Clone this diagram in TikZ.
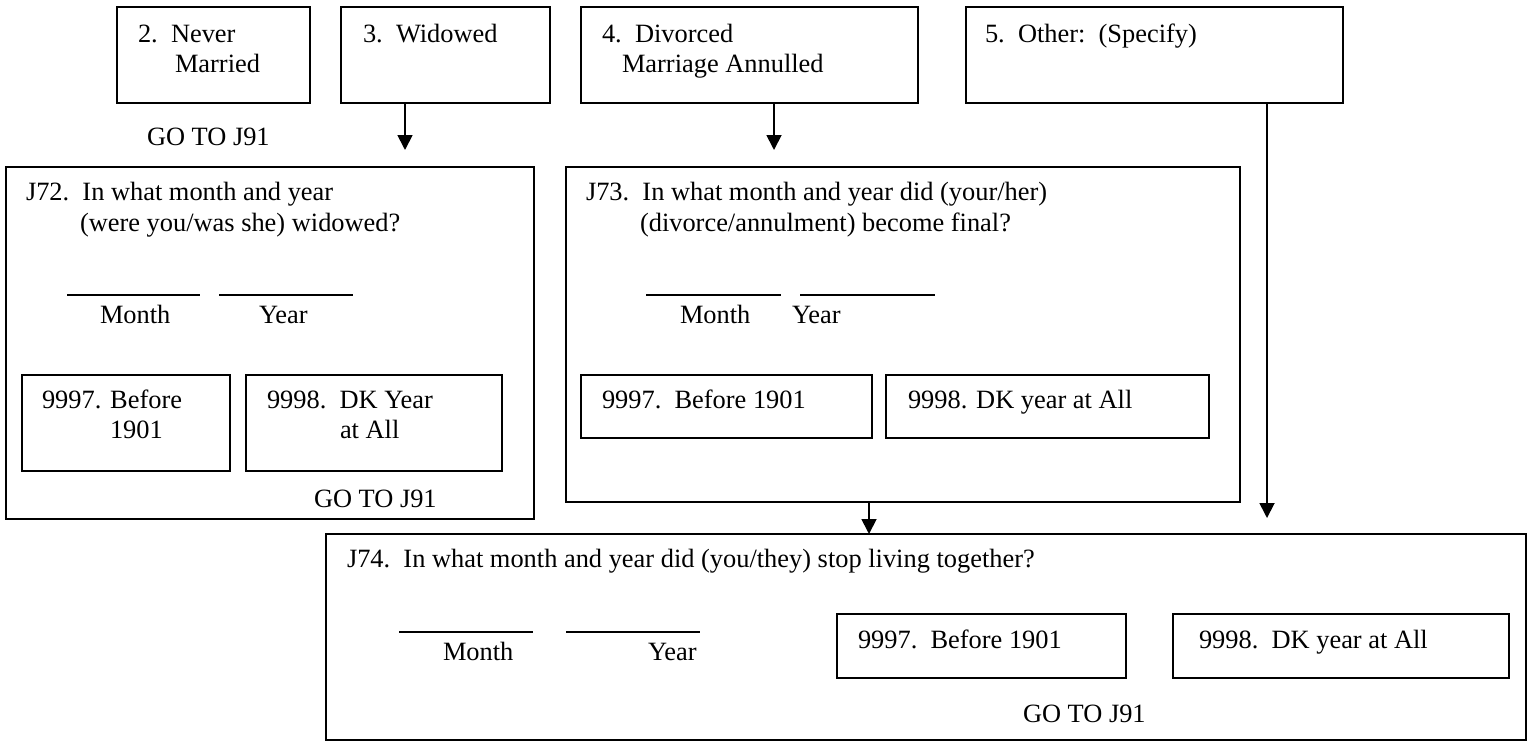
\documentclass[tikz,border=0pt]{standalone}
\usepackage{fontspec}
\setmainfont{Liberation Serif}
\usetikzlibrary{arrows.meta}
\begin{document}
\begin{tikzpicture}[x=1pt,y=-1pt,
  every node/.style={font=\fontsize{26.4pt}{30pt}\selectfont},
  box/.style={draw, line width=2pt, rectangle, inner sep=0pt, outer sep=0pt, anchor=north west},
  txt/.style={anchor=base west, inner sep=0pt, outer sep=0pt},
  blank/.style={line width=1.5pt},
  arr/.style={line width=1.8pt, -{Triangle[length=15pt,width=15pt]}}]
\useasboundingbox (0,0) rectangle (1533,742);
% top answer boxes
\node[box, minimum width=193pt, minimum height=96pt] (b2) at (117,7) {};
\node[box, minimum width=209pt, minimum height=96pt] (b3) at (341,7) {};
\node[box, minimum width=337pt, minimum height=96pt] (b4) at (581,7) {};
\node[box, minimum width=377pt, minimum height=96pt] (b5) at (966,7) {};
\node[txt] (t2a) at (138,42) {2.\ \ Never};
\node[txt] (t2b) at (175,72) {Married};
\node[txt] (g2) at (147,145) {GO TO J91};
\node[txt] (t3) at (363,42) {3.\ \ Widowed};
\node[txt] (t4a) at (602,42) {4.\ \ Divorced};
\node[txt] (t4b) at (622,72) {Marriage Annulled};
\node[txt] (t5) at (985,42) {5.\ \ Other:\ \ (Specify)};
% J72
\node[box, minimum width=528pt, minimum height=352pt] (j72) at (6,167) {};
\node[txt] (q72a) at (26,200) {J72.\ \ In what month and year};
\node[txt] (q72b) at (80,231) {(were you/was she) widowed?};
\draw[blank] (67,295) -- (200,295);
\draw[blank] (219,295) -- (353,295);
\node[txt] (m72) at (100,323) {Month};
\node[txt] (y72) at (259,323) {Year};
\node[box, minimum width=208pt, minimum height=96pt] (j72a) at (22,375) {};
\node[box, minimum width=256pt, minimum height=96pt] (j72b) at (246,375) {};
\node[txt] (a72a) at (42,408) {9997. Before};
\node[txt] (a72b) at (110,438) {1901};
\node[txt] (b72a) at (267,408) {9998.\ \ DK Year};
\node[txt] (b72b) at (340,438) {at All};
\node[txt] (g72) at (314,507) {GO TO J91};
% J73
\node[box, minimum width=674pt, minimum height=335pt] (j73) at (566,167) {};
\node[txt] (q73a) at (586,200) {J73.\ \ In what month and year did (your/her)};
\node[txt] (q73b) at (640,231) {(divorce/annulment) become final?};
\draw[blank] (646,295) -- (781,295);
\draw[blank] (800,295) -- (935,295);
\node[txt] (m73) at (680,323) {Month};
\node[txt] (y73) at (792,323) {Year};
\node[box, minimum width=291pt, minimum height=63pt] (j73a) at (581,375) {};
\node[box, minimum width=323pt, minimum height=63pt] (j73b) at (886,375) {};
\node[txt] (a73) at (602,408) {9997.\ \ Before 1901};
\node[txt] (b73) at (908,408) {9998. DK year at All};
% J74
\node[box, minimum width=1200pt, minimum height=206pt] (j74) at (326,534) {};
\node[txt] (q74) at (347,567) {J74.\ \ In what month and year did (you/they) stop living together?};
\draw[blank] (399,632) -- (533,632);
\draw[blank] (566,632) -- (700,632);
\node[txt] (m74) at (443,660) {Month};
\node[txt] (y74) at (648,660) {Year};
\node[box, minimum width=289pt, minimum height=64pt] (j74a) at (837,614) {};
\node[box, minimum width=336pt, minimum height=64pt] (j74b) at (1173,614) {};
\node[txt] (a74) at (858,648) {9997.\ \ Before 1901};
\node[txt] (b74) at (1199,648) {9998.\ \ DK year at All};
\node[txt] (g74) at (1023,722) {GO TO J91};
% arrows
\coordinate (e3) at (405,150);
\coordinate (e4) at (774,150);
\coordinate (e5) at (1267,518);
\draw[arr] (b3.south -| e3) -- (e3);
\draw[arr] (b4.south -| e4) -- (e4);
\draw[arr] (b5.south -| e5) -- (e5);
\draw[arr] (j73.south -| 869,0) -- (j74.north -| 869,0);
\end{tikzpicture}
\end{document}
